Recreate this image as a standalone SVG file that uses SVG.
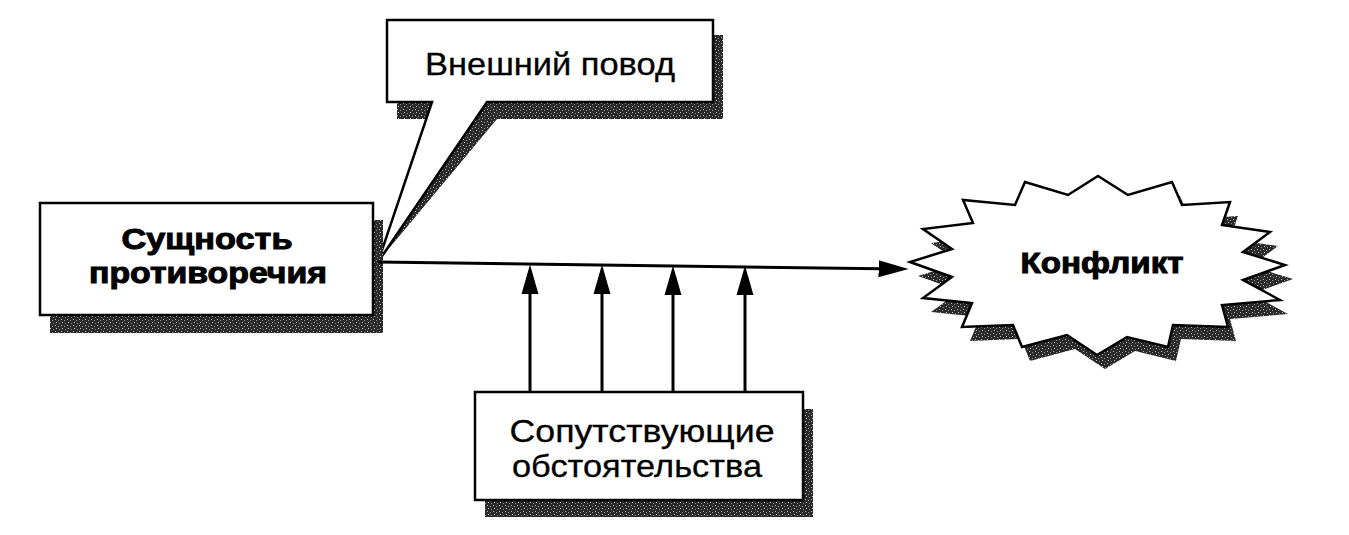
<svg xmlns="http://www.w3.org/2000/svg" width="1349" height="535" viewBox="0 0 1349 535">
<style>
.box{fill:#fff;stroke:#000;stroke-width:2.5;stroke-linejoin:miter}
.sh{fill:url(#grain);stroke:none}
.t{font-family:"Liberation Sans",Arial,sans-serif;fill:#000;text-anchor:middle}
.tb{font-weight:bold;font-size:29px;stroke:#000;stroke-width:1}
.tr{font-size:32px;stroke:#000;stroke-width:0.3}
.con{stroke:#000;stroke-width:3;fill:none}
</style>
<defs>
<pattern id="grain" width="6" height="6" patternUnits="userSpaceOnUse">
<rect width="6" height="6" fill="#2a2a2a"/>
<rect x="1" y="1" width="1" height="1" fill="#bbb"/>
<rect x="4" y="2" width="1" height="1" fill="#999"/>
<rect x="2" y="4" width="1" height="1" fill="#ccc"/>
<rect x="5" y="5" width="1" height="1" fill="#888"/>
</pattern>
<marker id="ah" markerUnits="userSpaceOnUse" markerWidth="30" markerHeight="18" viewBox="0 0 28 16" refX="20" refY="8" orient="auto">
<path d="M0,0 L28,8 L0,16 Z" fill="#000"/>
</marker>
</defs>
<rect width="1349" height="535" fill="#fff"/>

<g id="node-vneshniy-povod">
<path class="sh" d="M397,35 H723 V119 H497 L381,258 L432,119 H397 Z"/>
<path class="box" d="M387,20 H713 V102 H487 L378,262 L432,102 H387 Z"/>
<text class="t tr" x="550" y="75" textLength="250" lengthAdjust="spacingAndGlyphs">Внешний повод</text>
</g>

<g id="node-sushchnost">
<rect class="sh" x="50" y="220" width="333" height="113"/>
<rect class="box" x="40" y="203" width="333" height="112"/>
<text class="t tb" x="207" y="249" textLength="171" lengthAdjust="spacingAndGlyphs">Сущность</text>
<text class="t tb" x="208" y="283" textLength="238" lengthAdjust="spacingAndGlyphs">противоречия</text>
</g>

<g id="node-soputstvuyushchie">
<rect class="sh" x="485" y="409" width="328" height="108"/>
<rect class="box" x="475" y="392" width="328" height="108"/>
<text class="t tr" x="642" y="442" textLength="265" lengthAdjust="spacingAndGlyphs">Сопутствующие</text>
<text class="t tr" x="637" y="477" textLength="250" lengthAdjust="spacingAndGlyphs">обстоятельства</text>
</g>

<g id="node-konflikt">
<polygon class="sh" transform="translate(8,14)" points="1025,182 1068,195 1098,176 1128,195 1172,182 1182,205 1230,202 1222,225 1270,232 1243,252 1285,265 1243,280 1280,300 1222,305 1228,327 1173,325 1168,347 1127,337 1097,355 1067,335 1022,347 1013,325 962,327 972,303 923,298 952,277 910,262 952,249 923,229 973,223 963,200 1015,205"/>
<polygon class="box" points="1025,182 1068,195 1098,176 1128,195 1172,182 1182,205 1230,202 1222,225 1270,232 1243,252 1285,265 1243,280 1280,300 1222,305 1228,327 1173,325 1168,347 1127,337 1097,355 1067,335 1022,347 1013,325 962,327 972,303 923,298 952,277 910,262 952,249 923,229 973,223 963,200 1015,205"/>
<text class="t tb" x="1102" y="273" font-size="27" textLength="163" lengthAdjust="spacingAndGlyphs">Конфликт</text>
</g>

<g id="connectors">
<line class="con" x1="378" y1="262" x2="900" y2="269" marker-end="url(#ah)"/>
<line class="con" x1="530" y1="392" x2="530" y2="273" marker-end="url(#ah)"/>
<line class="con" x1="602" y1="392" x2="602" y2="273" marker-end="url(#ah)"/>
<line class="con" x1="673" y1="392" x2="673" y2="274" marker-end="url(#ah)"/>
<line class="con" x1="745" y1="392" x2="745" y2="274" marker-end="url(#ah)"/>
</g>
</svg>
